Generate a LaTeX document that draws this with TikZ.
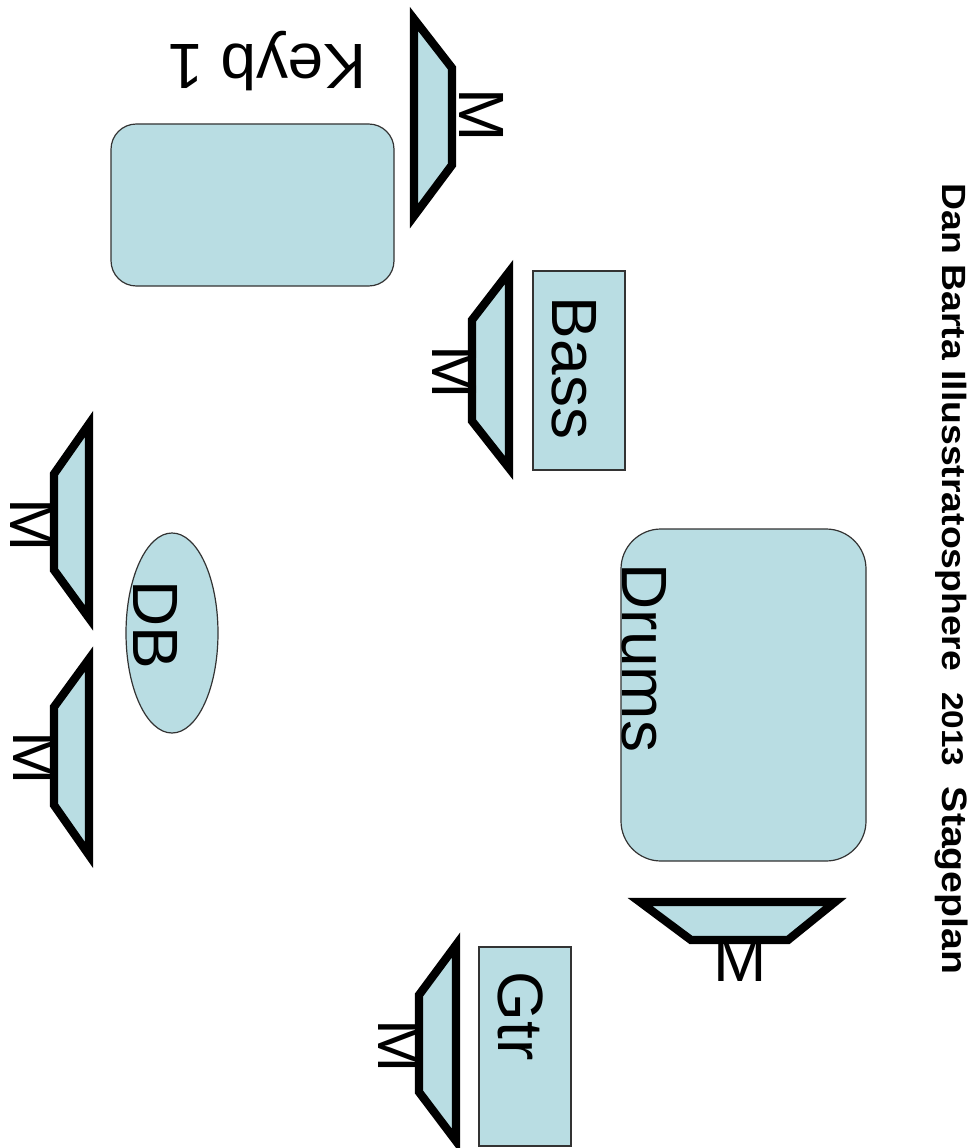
\documentclass[tikz,border=0pt]{standalone}
\usepackage{fontspec}
\setmainfont{Liberation Sans}
\usetikzlibrary{shapes.geometric}
\definecolor{stagefill}{HTML}{B9DDE3}

\begin{document}
\begin{tikzpicture}[
    x=0.75pt,y=-0.75pt,
    gear/.style={               % Instruments and players.
      draw=black!80,
      fill=stagefill,
      line width=0.9pt
    },
    monitor/.style={            % Floor wedges.
      draw=black,
      fill=stagefill,
      line width=6.2pt,
      line join=miter
    },
    lbl/.style={                % Text on the gear, and the M of the wedges.
      inner sep=0pt,
      anchor=base,
      font=\fontsize{48}{56}\selectfont
    }]
    \useasboundingbox (0,0) rectangle (974,1148);

    % Instruments.
    \draw[gear,rounded corners=19pt] (111,124) rectangle (394,286);
    \draw[gear] (533,271) rectangle (625,470);
    \draw[gear,rounded corners=30pt] (621,529) rectangle (866,861);
    \draw[gear] (479,947) rectangle (571,1146);
    \node[gear,ellipse,minimum width=69pt,minimum height=150pt,inner sep=0pt] (db) at (172,633) {};

    % Monitor wedges.
    \draw[monitor] (414,19) -- (452,68) -- (452,165) -- (414,216) -- cycle;
    \draw[monitor] (509,272) -- (472,320) -- (472,421) -- (509,468) -- cycle;
    \draw[monitor] (89,424) -- (54,474) -- (54,570) -- (89,618) -- cycle;
    \draw[monitor] (89,659) -- (54,707) -- (54,805) -- (89,855) -- cycle;
    \draw[monitor] (640,902) -- (691,940) -- (788,940) -- (835,902) -- cycle;
    \draw[monitor] (456,945) -- (419,995) -- (419,1092) -- (456,1141) -- cycle;

    % Labels of the instruments.
    \node[lbl,rotate=180] (keyb) at (267,45) {Keyb 1};
    \node[lbl,rotate=-90] (bass) at (552,368) {Bass};
    \node[lbl,rotate=-90] (drums) at (622,658) {Drums};
    \node[lbl,rotate=-90] (dbname) at (133,625) {DB};
    \node[lbl,rotate=-90] (gtr) at (498,1016) {Gtr};

    % The M of each wedge.
    \node[lbl,rotate=-90] (m0) at (459,115) {M};
    \node[lbl,rotate=-90] (m1) at (432,372) {M};
    \node[lbl,rotate=-90] (m2) at (11,525) {M};
    \node[lbl,rotate=-90] (m3) at (13,758) {M};
    \node[lbl] (m4) at (740,981) {M};
    \node[lbl,rotate=-90] (m5) at (378,1046) {M};

    % Title of the plan.
    \node[inner sep=0pt,anchor=base,rotate=-90,font=\fontsize{28}{32}\selectfont\bfseries] (title)
      at (942,579) {\scalebox{1}[0.9]{Dan Barta Illusstratosphere\ \ {\fontsize{25}{32}\selectfont 2013}\ \ {\fontsize{29.4}{32}\selectfont Stageplan}}};
\end{tikzpicture}
\end{document}
